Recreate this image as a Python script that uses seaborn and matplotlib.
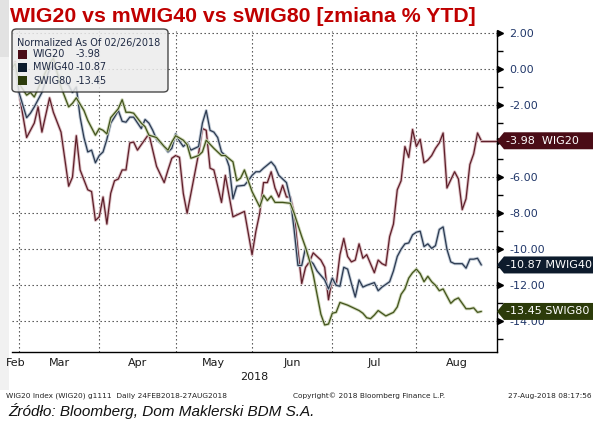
import numpy as np
import pandas as pd
import matplotlib
matplotlib.use('Agg')
import matplotlib.pyplot as plt
import matplotlib.patheffects as pe
import matplotlib.transforms as mtransforms
from matplotlib.patches import FancyBboxPatch, Rectangle, Polygon
import seaborn as sns

# x = trading-day index counted from 26 Feb 2018 (Warsaw sessions), y = % change
wig20_day = [1, 2, 3, 5, 7, 8, 9, 11, 12, 14,
             16, 17, 18, 19, 21, 22, 23, 24, 25, 26,
             27, 28, 29, 30, 31, 32, 33, 34, 35, 37,
             38, 39, 41, 42, 43, 44, 45, 46, 47, 48,
             50, 51, 52, 53, 54, 56, 57, 59, 60, 62,
             64, 65, 66, 67, 68, 69, 70, 71, 72, 73,
             74, 75, 76, 77, 78, 79, 80, 81, 82, 83,
             84, 85, 86, 87, 88, 89, 90, 91, 92, 93,
             94, 95, 96, 97, 98, 99, 100, 101, 102, 103,
             104, 105, 106, 107, 108, 109, 110, 111, 112, 113,
             114, 115, 117, 118, 119, 120, 121, 122, 123, 124]
wig20 = [0.0, 0.4, -1.3, -3.8, -3.0, -2.1, -3.5, -1.6, -2.4, -3.5,
         -6.5, -6.0, -3.7, -5.6, -6.7, -6.8, -8.4, -8.2, -7.1, -8.6,
         -6.9, -6.2, -6.1, -5.6, -5.6, -4.1, -4.05, -4.5, -4.2, -3.6,
         -4.5, -5.4, -6.3, -5.6, -4.95, -4.8, -4.9, -6.9, -8.0, -6.9,
         -4.7, -3.3, -3.4, -5.5, -5.6, -7.4, -5.9, -8.2, -8.1, -7.9,
         -10.3, -9.0, -8.0, -6.3, -6.3, -5.7, -6.6, -7.1, -6.45, -7.1,
         -7.1, -8.0, -10.05, -11.9, -11.0, -10.7, -10.2, -10.4, -10.6, -11.0,
         -12.8, -11.6, -12.0, -10.3, -9.4, -10.4, -10.7, -10.6, -9.7, -10.5,
         -10.3, -10.8, -11.3, -10.6, -10.8, -10.9, -9.3, -8.6, -6.7, -6.2,
         -4.3, -4.9, -3.35, -4.3, -3.9, -5.2, -5.05, -4.8, -4.4, -4.1,
         -3.55, -6.6, -5.7, -6.1, -7.8, -7.2, -5.3, -4.7, -3.55, -3.98]

mwig40_day = [1, 2, 3, 5, 6, 7, 9, 11, 12, 14,
              16, 17, 18, 19, 20, 21, 22, 23, 24, 25,
              26, 27, 28, 29, 30, 31, 32, 33, 35, 36,
              37, 38, 39, 41, 42, 43, 44, 45, 46, 47,
              48, 50, 51, 52, 53, 54, 55, 56, 57, 58,
              59, 60, 62, 63, 64, 65, 66, 67, 69, 70,
              71, 73, 74, 75, 76, 77, 78, 79, 80, 81,
              82, 83, 84, 85, 86, 87, 88, 89, 90, 91,
              92, 93, 94, 96, 97, 98, 100, 101, 102, 103,
              104, 105, 106, 107, 108, 109, 110, 111, 112, 113,
              114, 115, 116, 117, 119, 120, 121, 122, 123, 124]
mwig40 = [0.0, 0.3, -1.3, -2.7, -2.45, -2.1, -1.3, 0.0, 0.2, -0.6,
          -0.9, -1.3, -1.0, -2.67, -3.8, -4.6, -4.5, -5.2, -4.8, -4.6,
          -3.9, -3.0, -2.67, -2.3, -2.9, -2.95, -2.67, -2.67, -3.3, -2.8,
          -3.0, -3.4, -3.9, -4.3, -4.6, -4.4, -3.6, -4.0, -4.3, -4.1,
          -4.5, -4.3, -3.0, -2.3, -3.4, -3.5, -3.8, -4.6, -4.8, -5.4,
          -7.2, -6.5, -6.45, -6.2, -5.9, -5.7, -5.7, -5.5, -5.15, -5.4,
          -5.9, -6.3, -7.2, -8.9, -10.9, -10.9, -9.9, -10.6, -10.8, -11.2,
          -11.45, -11.7, -12.2, -11.6, -12.0, -12.05, -11.0, -11.1, -11.9, -12.65,
          -11.7, -12.1, -12.0, -11.85, -12.3, -12.1, -11.8, -11.2, -10.4, -10.0,
          -9.7, -9.65, -9.2, -9.05, -9.0, -9.85, -9.7, -9.95, -9.8, -8.9,
          -8.76, -10.0, -10.7, -10.8, -10.8, -11.05, -10.55, -10.55, -10.5, -10.87]

swig80_day = [1, 2, 3, 5, 6, 7, 9, 11, 12, 14,
              16, 17, 18, 20, 21, 23, 24, 25, 26, 27,
              29, 30, 31, 32, 33, 35, 36, 37, 39, 40,
              41, 42, 43, 44, 46, 47, 48, 50, 51, 52,
              54, 56, 57, 59, 60, 61, 62, 63, 64, 66,
              67, 68, 69, 70, 72, 74, 75, 77, 78, 79,
              80, 81, 82, 83, 84, 85, 86, 87, 89, 90,
              92, 93, 94, 95, 96, 97, 98, 99, 101, 102,
              103, 104, 105, 106, 107, 108, 109, 110, 111, 112,
              113, 114, 116, 117, 118, 120, 121, 122, 123, 124]
swig80 = [0.0, 0.3, -0.8, -1.45, -1.3, -1.55, -0.6, 0.3, 0.6, -1.0,
          -2.1, -1.9, -1.6, -2.3, -2.85, -3.67, -3.3, -3.4, -3.6, -2.7,
          -2.2, -1.7, -2.4, -2.4, -2.45, -3.0, -3.2, -3.67, -3.8, -4.05,
          -4.3, -4.5, -4.05, -3.7, -3.95, -4.2, -4.95, -4.8, -4.6, -3.95,
          -4.4, -4.8, -4.8, -5.15, -6.2, -6.05, -5.6, -6.2, -6.8, -7.65,
          -7.0, -7.3, -7.05, -7.4, -7.4, -7.45, -8.0, -9.3, -9.9, -10.6,
          -11.4, -12.5, -13.6, -14.2, -14.15, -13.55, -13.5, -12.95, -13.1, -13.2,
          -13.4, -13.55, -13.8, -13.85, -13.65, -13.4, -13.55, -13.7, -13.5, -13.2,
          -12.5, -12.2, -11.6, -11.3, -11.1, -11.35, -11.8, -11.5, -11.8, -12.0,
          -12.3, -12.2, -13.0, -12.8, -12.7, -13.3, -13.3, -13.25, -13.5, -13.45]

names = ['WIG20', 'MWIG40', 'SWIG80']
last_values = [-3.98, -10.87, -13.45]
month_starts = [3, 24, 44, 64, 85, 107]          # first session of Mar..Aug
month_names = ['Feb', 'Mar', 'Apr', 'May', 'Jun', 'Jul', 'Aug']
y_ticks = [2, 0, -2, -4, -6, -8, -10, -12, -14]

core_colors = ['#5e1f2a', '#2c3a50', '#42531c']
halo_colors = ['#dcbfc3', '#c0cad6', '#cdd6b8']
tag_colors = ['#4a0c16', '#0d1b2c', '#2c3b0a']

W, H = 596, 421
sns.set_style('white')
plt.rcParams['font.family'] = ['DejaVu Sans']
plt.rcParams['axes.unicode_minus'] = False

fig = plt.figure(figsize=(W / 100, H / 100), dpi=100)
fig.patch.set_facecolor('white')


def fx(px):
    return px / W


def fy(py):
    return 1 - py / H


# grey strip on the left edge
fig.add_artist(Rectangle((0, fy(390)), fx(9), fy(0) - fy(390), transform=fig.transFigure,
                         fc='#f1f1f1', ec='none', zorder=0))
fig.add_artist(Rectangle((0, fy(57)), fx(9), fy(0) - fy(57), transform=fig.transFigure,
                         fc='#e2e2e2', ec='none', zorder=0))

ax = fig.add_axes([fx(12), fy(352), fx(497) - fx(12), fy(31) - fy(352)])
ax.set_facecolor('none')

x_left, x_right = 1.17, 128.1
ax.set_xlim(x_left, x_right)
ax.set_ylim(-15.70, 2.11)

df = pd.concat([
    pd.DataFrame({'day': wig20_day, 'value': wig20, 'index': 'WIG20'}),
    pd.DataFrame({'day': mwig40_day, 'value': mwig40, 'index': 'MWIG40'}),
    pd.DataFrame({'day': swig80_day, 'value': swig80, 'index': 'SWIG80'}),
])

for name, core, halo in zip(names, core_colors, halo_colors):
    sub = df[df['index'] == name]
    sns.lineplot(data=sub, x='day', y='value', color=core, lw=0.9, ax=ax, zorder=3,
                 path_effects=[pe.Stroke(linewidth=2.2, foreground=halo), pe.Normal()])

# last price line for the main security
ax.plot([wig20_day[-1], x_right], [last_values[0], last_values[0]], color=core_colors[0], lw=0.9,
        zorder=3, clip_on=False,
        path_effects=[pe.Stroke(linewidth=2.2, foreground=halo_colors[0]), pe.Normal()])

# grid / ticks
ax.set_xticks(month_starts)
ax.set_xticklabels([''] * len(month_starts))
edges = [x_left + 1.0] + month_starts + [x_right]
centers = [edges[0]] + [(a + b) / 2 for a, b in zip(month_starts, month_starts[1:] + [x_right])]
ax.set_xticks(centers, minor=True)
ax.set_xticklabels(month_names, minor=True)
ax.tick_params(axis='x', which='major', direction='inout', length=7, width=1, color='black')
ax.tick_params(axis='x', which='minor', length=0, pad=4, labelsize=8, labelcolor='#1a1a1a')

ax.yaxis.tick_right()
ax.set_yticks(y_ticks)
# the -4.00 label sits under the WIG20 last-value tag in the original
ax.set_yticklabels(['' if t == -4 else '%.2f' % t for t in y_ticks])
ax.set_yticks([-15, -13, -11, -9, -7, -5, -3, -1, 1], minor=True)
ax.tick_params(axis='y', which='major', length=0, pad=9, labelsize=8, labelcolor='#22386a')
ax.tick_params(axis='y', which='minor', direction='out', length=4, width=1, color='black')

ax.grid(True, which='major', color='#404040', lw=0.8, ls=(0, (1.2, 2.4)))
ax.set_axisbelow(True)
for s in ['left', 'top']:
    ax.spines[s].set_visible(False)
for s in ['right', 'bottom']:
    ax.spines[s].set_color('black')
    ax.spines[s].set_linewidth(1.0)
ax.set_xlabel('2018', fontsize=8, color='#1a1a1a', labelpad=3)
ax.set_ylabel('')

# arrow heads on major y ticks
ytr = mtransforms.blended_transform_factory(ax.transAxes, ax.transData)
ax.plot([1.0 + 3 / 485] * len(y_ticks), y_ticks, ls='none', marker='>', ms=4.5, color='black',
        transform=ytr, clip_on=False, zorder=4)

# last value tags on the right
aw = 485.0
half = 8.5 / 18.03
for name, val, col in zip(names, last_values, tag_colors):
    poly = Polygon([(1.0, val), (1 + 7 / aw, val + half), (1 + 96 / aw, val + half),
                    (1 + 96 / aw, val - half), (1 + 7 / aw, val - half)],
                   closed=True, transform=ytr, fc=col, ec='none', clip_on=False, zorder=10)
    ax.add_patch(poly)
    gap = '  ' if len(name) == 5 else ' '
    ax.text(1 + 9 / aw, val, '%.2f%s%s' % (val, gap, name), transform=ytr, ha='left', va='center',
            fontsize=8, color='white', zorder=11, clip_on=False)

# legend box
fig.add_artist(FancyBboxPatch((fx(12), fy(92)), fx(168) - fx(12), fy(29) - fy(92),
                              boxstyle='round,pad=0,rounding_size=0.008', transform=fig.transFigure,
                              fc='#ececec', ec='#2a2a2a', lw=1.0, alpha=0.85, zorder=5))
fig.text(fx(17), fy(43), 'Normalized As Of 02/26/2018', fontsize=7, color='#1f2a44',
         ha='left', va='center', zorder=6)
for k, (name, val, col) in enumerate(zip(names, last_values, tag_colors)):
    yc = 54 + k * 13.3
    fig.add_artist(Rectangle((fx(18), fy(yc + 4.5)), fx(9), fy(yc - 4.5) - fy(yc + 4.5),
                             transform=fig.transFigure, fc=col, ec='none', zorder=6))
    fig.text(fx(33), fy(yc), name, fontsize=7, color='#1f2a44', ha='left', va='center', zorder=6)
    fig.text(fx(76), fy(yc), '%.2f' % val, fontsize=7, color='#1f2a44', ha='left', va='center', zorder=6)

# title and footers
fig.text(fx(10), fy(16), 'WIG20 vs mWIG40 vs sWIG80 [zmiana % YTD]', fontsize=15.3,
         fontweight='bold', color='#c00000', family=['Liberation Sans', 'DejaVu Sans'],
         ha='left', va='center')
fig.text(fx(6), fy(396), 'WIG20 Index (WIG20) g1111  Daily 24FEB2018-27AUG2018', fontsize=5.3,
         color='#222222', ha='left', va='center')
fig.text(fx(293), fy(396), 'Copyright\u00a9 2018 Bloomberg Finance L.P.', fontsize=5.3,
         color='#222222', ha='left', va='center')
fig.text(fx(591), fy(396), '27-Aug-2018 08:17:56', fontsize=5.3, color='#222222',
         ha='right', va='center')
fig.text(fx(8), fy(411), 'Źródło: Bloomberg, Dom Maklerski BDM S.A.', fontsize=11,
         style='italic', color='#111111', family=['Liberation Sans', 'DejaVu Sans'],
         ha='left', va='center')

fig.savefig('out.png', dpi=100)
